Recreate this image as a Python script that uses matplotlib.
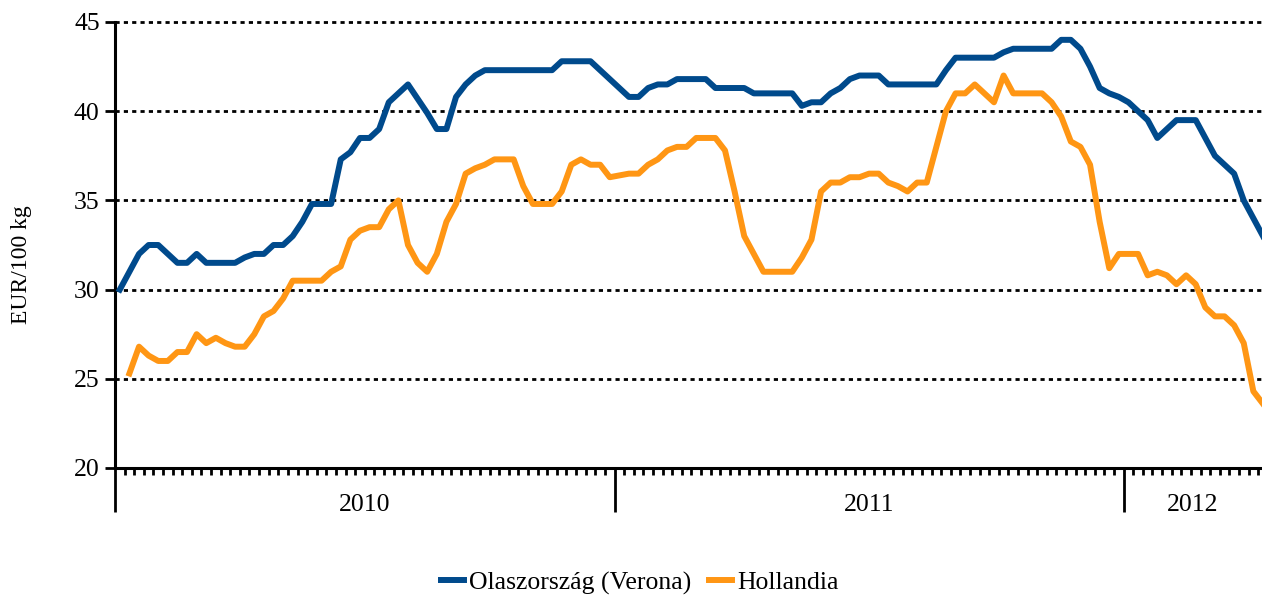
import numpy as np
import matplotlib.pyplot as plt
from matplotlib.transforms import blended_transform_factory

plt.rcParams['font.family'] = 'Liberation Serif'

# weekly prices, EUR/100 kg
years = ['2010', '2011', '2012']
weeks_in_year = [52, 53, 15]

verona = [30.0, 31.0, 32.0, 32.5, 32.5, 32.0, 31.5, 31.5, 32.0, 31.5,
          31.5, 31.5, 31.5, 31.8, 32.0, 32.0, 32.5, 32.5, 33.0, 33.8,
          34.8, 34.8, 34.8, 37.3, 37.7, 38.5, 38.5, 39.0, 40.5, 41.0,
          41.5, 40.7, 39.9, 39.0, 39.0, 40.8, 41.5, 42.0, 42.3, 42.3,
          42.3, 42.3, 42.3, 42.3, 42.3, 42.3, 42.8, 42.8, 42.8, 42.8,
          42.3, 41.8, 41.3, 40.8, 40.8, 41.3, 41.5, 41.5, 41.8, 41.8,
          41.8, 41.8, 41.3, 41.3, 41.3, 41.3, 41.0, 41.0, 41.0, 41.0,
          41.0, 40.3, 40.5, 40.5, 41.0, 41.3, 41.8, 42.0, 42.0, 42.0,
          41.5, 41.5, 41.5, 41.5, 41.5, 41.5, 42.3, 43.0, 43.0, 43.0,
          43.0, 43.0, 43.3, 43.5, 43.5, 43.5, 43.5, 43.5, 44.0, 44.0,
          43.5, 42.5, 41.3, 41.0, 40.8, 40.5, 40.0, 39.5, 38.5, 39.0,
          39.5, 39.5, 39.5, 38.5, 37.5, 37.0, 36.5, 35.0, 34.0, 33.0]

hollandia = [np.nan, 25.3, 26.8, 26.3, 26.0, 26.0, 26.5, 26.5, 27.5, 27.0,
             27.3, 27.0, 26.8, 26.8, 27.5, 28.5, 28.8, 29.5, 30.5, 30.5,
             30.5, 30.5, 31.0, 31.3, 32.8, 33.3, 33.5, 33.5, 34.5, 35.0,
             32.5, 31.5, 31.0, 32.0, 33.8, 34.8, 36.5, 36.8, 37.0, 37.3,
             37.3, 37.3, 35.8, 34.8, 34.8, 34.8, 35.5, 37.0, 37.3, 37.0,
             37.0, 36.3, 36.4, 36.5, 36.5, 37.0, 37.3, 37.8, 38.0, 38.0,
             38.5, 38.5, 38.5, 37.8, 35.5, 33.0, 32.0, 31.0, 31.0, 31.0,
             31.0, 31.8, 32.8, 35.5, 36.0, 36.0, 36.3, 36.3, 36.5, 36.5,
             36.0, 35.8, 35.5, 36.0, 36.0, 38.0, 40.0, 41.0, 41.0, 41.5,
             41.0, 40.5, 42.0, 41.0, 41.0, 41.0, 41.0, 40.5, 39.7, 38.3,
             38.0, 37.0, 33.8, 31.2, 32.0, 32.0, 32.0, 30.8, 31.0, 30.8,
             30.3, 30.8, 30.3, 29.0, 28.5, 28.5, 28.0, 27.0, 24.3, 23.6]

x = np.arange(len(verona))
x_right = 118.9

fig = plt.figure(figsize=(12.62, 5.97), dpi=100)
ax = fig.add_axes([115/1262, 1 - 468/597, 1147/1262, 446/597])

ax.plot(x, verona, color='#004a8c', linewidth=4.3, solid_joinstyle='round',
        label='Olaszország (Verona)', zorder=3)
ax.plot(x, hollandia, color='#ff9614', linewidth=4.3, solid_joinstyle='round',
        label='Hollandia', zorder=3)

# dotted gridlines
for yv in range(25, 46, 5):
    ax.axhline(yv, color='black', linewidth=2.0, linestyle=(0, (1.5, 1.5)),
               zorder=1, clip_on=False)

ax.set_ylim(20, 45)
ax.set_yticks(range(20, 46, 5))
ax.set_xlim(-0.5, x_right)

bounds = np.cumsum([0] + weeks_in_year) - 0.5
ax.set_xticks(bounds[:-1])
ax.set_xticklabels([])
ax.set_xticks(np.arange(0.5, x_right, 1), minor=True)
ax.tick_params(axis='x', which='major', length=32, width=2, direction='out')
ax.tick_params(axis='x', which='minor', length=5, width=2, direction='out')
ax.tick_params(axis='y', length=7, width=2, direction='out', labelsize=18.5, pad=4)

for side in ['top', 'right']:
    ax.spines[side].set_visible(False)
for side in ['left', 'bottom']:
    ax.spines[side].set_linewidth(2.2)

trans = blended_transform_factory(ax.transData, ax.transAxes)
for i, yr in enumerate(years):
    mid = (bounds[i] + min(bounds[i + 1], x_right)) / 2
    ax.text(mid, -0.083, yr, transform=trans, ha='center', va='center', fontsize=18.5)

fig.text(22/1262, 1 - 265/597, 'EUR/100 kg', rotation=90, ha='center', va='center', fontsize=17)

fig.legend(loc='center', bbox_to_anchor=(640/1262, 1 - 583/597), ncol=2, frameon=False,
           fontsize=18.5, handlelength=0.9, handletextpad=0.2, columnspacing=0.7)

fig.savefig('out.png', dpi=100)
plt.close(fig)
